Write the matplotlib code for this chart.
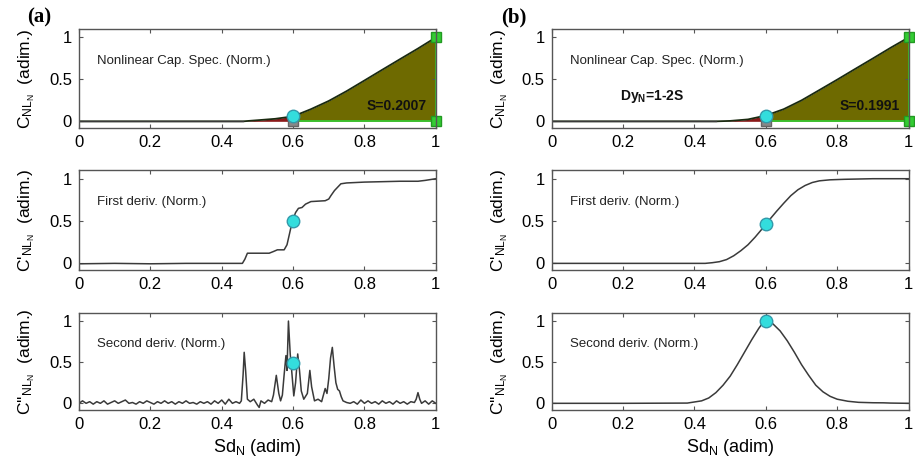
import matplotlib
matplotlib.use("Agg")
import matplotlib.pyplot as plt

plt.rcParams['font.family'] = ['Liberation Sans', 'DejaVu Sans']
plt.rcParams['mathtext.fontset'] = 'custom'
plt.rcParams['mathtext.rm'] = 'Liberation Sans'
plt.rcParams['mathtext.it'] = 'Liberation Sans:italic'
plt.rcParams['mathtext.bf'] = 'Liberation Sans:bold'

# ---- data ----
# (a) nonlinear capacity spectrum, normalized
cap_x = [0, 0.1, 0.2, 0.3, 0.4, 0.46, 0.5, 0.55, 0.6, 0.65, 0.7, 0.75, 0.8, 0.85, 0.9, 0.95, 1.0]
cap_a = [0, 0, 0, 0, 0, 0, 0.013, 0.03, 0.059, 0.145, 0.243, 0.36, 0.487, 0.615, 0.742, 0.868, 1.0]
# (b) capacity spectrum (fitted)
cap_b = [0, 0, 0, 0, 0, 0.0, 0.005, 0.023, 0.069, 0.145, 0.25, 0.373, 0.497, 0.624, 0.75, 0.878, 1.0]

# (a) first derivative (step-like)
d1a_x = [0, 0.1, 0.2, 0.3, 0.4, 0.458, 0.465, 0.472, 0.533, 0.545, 0.556, 0.575, 0.583, 0.59,
         0.598, 0.607, 0.615, 0.625, 0.635, 0.65, 0.69, 0.70, 0.706, 0.716, 0.725, 0.734, 0.75,
         0.8, 0.9, 0.95, 0.97, 1.0]
d1a_y = [-0.005, 0.0, -0.005, 0.0, 0.0, 0.0, 0.05, 0.12, 0.12, 0.14, 0.16, 0.16, 0.22, 0.35,
         0.5, 0.6, 0.65, 0.66, 0.70, 0.73, 0.74, 0.76, 0.80, 0.86, 0.9, 0.94, 0.95,
         0.96, 0.97, 0.97, 0.98, 1.0]
# (b) first derivative (smooth)
d1b_x = [0, 0.2, 0.4, 0.43, 0.45, 0.47, 0.49, 0.51, 0.53, 0.55, 0.57, 0.59, 0.61, 0.63, 0.65,
         0.67, 0.69, 0.71, 0.73, 0.75, 0.78, 0.82, 0.9, 1.0]
d1b_y = [0, 0, 0, 0.0, 0.008, 0.02, 0.045, 0.09, 0.15, 0.22, 0.31, 0.41, 0.515, 0.615, 0.71,
         0.80, 0.87, 0.92, 0.955, 0.975, 0.987, 0.993, 1.0, 1.0]

# (a) second derivative (noisy peaks)
d2a_x = [0.00, 0.01, 0.02, 0.03, 0.04, 0.05, 0.06, 0.07, 0.08, 0.09, 0.10, 0.11, 0.12, 0.13,
         0.14, 0.15, 0.16, 0.17, 0.18, 0.19, 0.20, 0.21, 0.22, 0.23, 0.24, 0.25, 0.26, 0.27,
         0.28, 0.29, 0.30, 0.31, 0.32, 0.33, 0.34, 0.35, 0.36, 0.37, 0.38, 0.39, 0.40, 0.41,
         0.42, 0.43, 0.44, 0.45, 0.455, 0.46, 0.463, 0.467, 0.472, 0.48, 0.49, 0.50, 0.505,
         0.51, 0.52, 0.53, 0.54, 0.545, 0.553, 0.56, 0.565, 0.57, 0.575, 0.58, 0.583, 0.587,
         0.592, 0.597, 0.602, 0.607, 0.613, 0.618, 0.623, 0.63, 0.64, 0.647, 0.652, 0.66,
         0.67, 0.68, 0.685, 0.69, 0.695, 0.70, 0.705, 0.71, 0.715, 0.72, 0.725, 0.73, 0.735,
         0.74, 0.75, 0.76, 0.77, 0.78, 0.79, 0.80, 0.81, 0.82, 0.83, 0.84, 0.85, 0.86, 0.87,
         0.88, 0.89, 0.90, 0.91, 0.92, 0.93, 0.94, 0.945, 0.95, 0.955, 0.96, 0.97, 0.98,
         0.99, 1.00]
d2a_y = [0.00, 0.03, 0.00, 0.02, -0.01, 0.02, 0.00, 0.03, -0.01, 0.01, 0.03, 0.00, 0.02, 0.04,
         0.00, 0.01, -0.01, 0.02, 0.00, 0.03, 0.01, -0.01, 0.02, 0.00, 0.03, 0.00, 0.02, -0.01,
         0.02, 0.00, 0.03, 0.00, 0.01, -0.01, 0.02, 0.00, 0.02, -0.01, 0.03, 0.00, 0.04, -0.01,
         0.05, 0.00, 0.02, 0.00, 0.03, 0.35, 0.62, 0.40, 0.05, 0.02, 0.05, -0.02, -0.05,
         0.03, 0.00, 0.04, 0.02, 0.10, 0.34, 0.12, 0.03, 0.10, 0.35, 0.58, 0.40, 1.00,
         0.60, 0.35, 0.09, 0.25, 0.60, 0.40, 0.15, 0.05, 0.12, 0.40, 0.20, 0.03,
         0.05, 0.02, 0.10, 0.18, 0.12, 0.30, 0.55, 0.68, 0.45, 0.25, 0.17, 0.15, 0.08,
         0.03, 0.01, 0.00, 0.02, -0.01, 0.04, 0.00, 0.03, 0.00, 0.02, -0.01, 0.03, 0.00, 0.02,
         -0.01, 0.03, 0.00, 0.02, -0.01, 0.02, 0.01, 0.05, 0.13, 0.05, 0.00, 0.03, -0.01,
         0.03, 0.00]
# (b) second derivative (bell)
d2b_x = [0, 0.2, 0.38, 0.42, 0.44, 0.46, 0.48, 0.50, 0.52, 0.54, 0.56, 0.58, 0.59, 0.60,
         0.61, 0.62, 0.64, 0.66, 0.68, 0.70, 0.72, 0.74, 0.76, 0.78, 0.80, 0.83, 0.86, 0.90,
         0.93, 0.95, 1.0]
d2b_y = [0, 0, 0.003, 0.03, 0.065, 0.13, 0.22, 0.33, 0.47, 0.62, 0.77, 0.91, 0.97, 1.0,
         0.99, 0.965, 0.88, 0.76, 0.62, 0.47, 0.34, 0.22, 0.14, 0.085, 0.05, 0.025, 0.012,
         0.007, 0.006, 0.003, 0.0]

# marker points (knee at Sd_N = 0.6)
knee_x = 0.6
knee_a = [0.059, 0.5, 0.49]
knee_b = [0.069, 0.46, 1.0]
corner_x = [1.0, 1.0]
corner_y = [1.0, 0.0]
areas = ['S=0.2007', 'S=0.1991']

xt = [0, 0.2, 0.4, 0.6, 0.8, 1.0]
xtl = ['0', '0.2', '0.4', '0.6', '0.8', '1']
yt = [0, 0.5, 1]
ytl = ['0', '0.5', '1']

ylabels = [r'C$_{\mathrm{NL}_\mathrm{N}}$  (adim.)',
           r"C'$_{\mathrm{NL}_\mathrm{N}}$  (adim.)",
           r"C''$_{\mathrm{NL}_\mathrm{N}}$  (adim.)"]
titles = ['Nonlinear Cap. Spec. (Norm.)', 'First deriv. (Norm.)', 'Second deriv. (Norm.)']

fig = plt.figure(figsize=(9.15, 4.69), dpi=100)

lefts = [0.0863, 0.603]
bottoms = [0.727, 0.424, 0.126]
heights = [0.211, 0.213, 0.207]
line_col = '#3a3a3a'
cyan = '#33dddd'


def style(ax, row):
    ax.set_xlim(0, 1)
    ax.set_ylim(-0.08, 1.1)
    ax.set_xticks(xt)
    ax.set_xticklabels(xtl)
    ax.set_yticks(yt)
    ax.set_yticklabels(ytl)
    ax.tick_params(direction='in', top=True, right=True, length=3, labelsize=12,
                   color='#555555', pad=5)
    for s in ax.spines.values():
        s.set_color('#555555')
        s.set_linewidth(1.0)
    ax.set_ylabel(ylabels[row], fontsize=12.5)
    ax.yaxis.set_label_coords(-0.118, 0.5)
    ax.text(0.05, 0.72, titles[row], fontsize=9.5, va='center', color='#222222')


for col in range(2):
    cap = [cap_a, cap_b][col]
    knee = [knee_a, knee_b][col]

    # top: capacity spectrum with area S
    ax = fig.add_axes([lefts[col], bottoms[0], 0.39, heights[0]])
    style(ax, 0)
    i0 = cap_x.index(0.6)
    ax.fill_between(cap_x[5:i0 + 1], 0, cap[5:i0 + 1], color='#8b1a1a', lw=0)
    ax.fill_between(cap_x[i0:], 0, cap[i0:], color='#6e6a00', lw=0)
    ax.plot([1, 1], [0, 1], color='#33cc33', lw=1.2)
    ax.plot([0.6, 1], [0, 0], color='#33cc33', lw=1.2)
    ax.plot(cap_x, cap, color='#1a2a10', lw=1.3)
    ax.plot(cap_x[:6], cap[:6], color=line_col, lw=1.0)
    ax.plot(corner_x, corner_y, 's', color='#33cc33', mec='#229922', ms=7, clip_on=False)
    ax.plot([knee_x], [0], 's', color='#888888', mec='#666666', ms=7)
    ax.plot([knee_x], [knee[0]], 'o', color=cyan, mec='#3399aa', ms=9)
    ax.text(0.975, 0.18, areas[col], fontsize=10, fontweight='bold', ha='right',
            va='center', color='#111111')
    if col == 1:
        ax.text(0.19, 0.3, r'Dy$_\mathbf{N}$=1-2S', fontsize=10, fontweight='bold',
                va='center', color='#111111')

    # middle: first derivative
    ax = fig.add_axes([lefts[col], bottoms[1], 0.39, heights[1]])
    style(ax, 1)
    ax.plot([d1a_x, d1b_x][col], [d1a_y, d1b_y][col], color=line_col, lw=1.1)
    ax.plot([knee_x], [knee[1]], 'o', color=cyan, mec='#3399aa', ms=9)

    # bottom: second derivative
    ax = fig.add_axes([lefts[col], bottoms[2], 0.39, heights[2]])
    style(ax, 2)
    ax.plot([d2a_x, d2b_x][col], [d2a_y, d2b_y][col], color=line_col, lw=1.1)
    ax.plot([knee_x], [knee[2]], 'o', color=cyan, mec='#3399aa', ms=9, clip_on=False)
    ax.set_xlabel(r'Sd$_\mathrm{N}$ (adim)', fontsize=13, labelpad=4)

# panel labels
fig.text(0.030, 0.963, '(a)', fontsize=15, fontweight='bold', family='Liberation Serif',
         va='center')
fig.text(0.548, 0.963, '(b)', fontsize=15, fontweight='bold', family='Liberation Serif',
         va='center')

fig.savefig('out.png', dpi=100)
